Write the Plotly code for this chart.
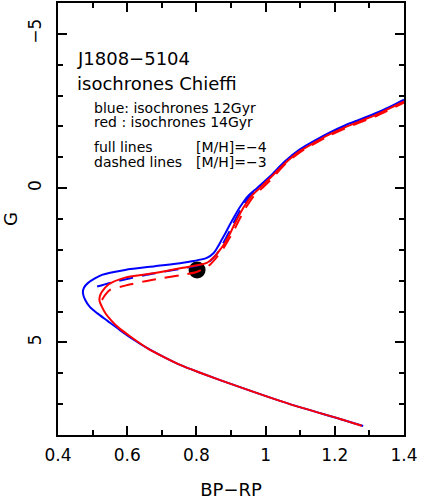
import plotly.graph_objects as go

# Chieffi isochrones, BP-RP vs G
# blue solid: 12 Gyr, [M/H]=-4
b12_m4_x = [1.282, 1.215, 1.07, 0.926, 0.805, 0.753, 0.705, 0.657, 0.62, 0.579, 0.543,
            0.513, 0.492, 0.478, 0.472, 0.475, 0.487, 0.527, 0.594, 0.68, 0.761, 0.83,
            0.85, 0.862, 0.872, 0.883, 0.895, 0.909, 0.926, 0.949, 0.975, 1.013, 1.056,
            1.099, 1.143, 1.186, 1.229, 1.273, 1.316, 1.36, 1.40]
b12_m4_g = [7.71, 7.48, 7.0, 6.45, 5.96, 5.73, 5.47, 5.18, 4.92, 4.60, 4.30,
            4.05, 3.85, 3.61, 3.39, 3.23, 3.07, 2.81, 2.65, 2.53, 2.42, 2.26,
            2.10, 1.90, 1.70, 1.48, 1.22, 0.935, 0.613, 0.258, 0.0, -0.387, -0.871,
            -1.258, -1.548, -1.806, -2.032, -2.226, -2.419, -2.645, -2.871]

# red solid: 14 Gyr, [M/H]=-4
r14_m4_x = [1.278, 1.215, 1.07, 0.926, 0.805, 0.753, 0.705, 0.66, 0.608, 0.575, 0.555,
            0.538, 0.527, 0.52, 0.521, 0.527, 0.545, 0.594, 0.68, 0.761, 0.83, 0.852,
            0.868, 0.878, 0.886, 0.897, 0.908, 0.921, 0.937, 0.959, 0.983, 1.013,
            1.056, 1.099, 1.143, 1.186, 1.229, 1.273, 1.316, 1.36, 1.40]
r14_m4_g = [7.70, 7.48, 7.0, 6.45, 5.96, 5.73, 5.47, 5.20, 4.80, 4.52, 4.30,
            4.07, 3.85, 3.65, 3.50, 3.36, 3.13, 2.90, 2.75, 2.58, 2.42, 2.22,
            2.00, 1.85, 1.70, 1.48, 1.22, 0.935, 0.613, 0.258, 0.0, -0.33,
            -0.81, -1.20, -1.49, -1.75, -1.97, -2.17, -2.36, -2.59, -2.81]

# blue dashed: 12 Gyr, [M/H]=-3
b12_m3_x = [0.513, 0.565, 0.65, 0.75, 0.83, 0.85, 0.866, 0.879, 0.89, 0.902, 0.915,
            0.931, 0.953, 0.979, 1.013, 1.056, 1.099, 1.143, 1.186, 1.229, 1.273,
            1.316, 1.36, 1.40]
b12_m3_g = [3.19, 3.03, 2.82, 2.62, 2.43, 2.25, 2.02, 1.75, 1.52, 1.26, 0.96,
            0.64, 0.28, 0.02, -0.36, -0.84, -1.23, -1.52, -1.78, -2.0, -2.2,
            -2.39, -2.62, -2.84]

# red dashed: 14 Gyr, [M/H]=-3
r14_m3_x = [0.527, 0.537, 0.55, 0.594, 0.646, 0.70, 0.753, 0.80, 0.835, 0.858, 0.875,
            0.886, 0.894, 0.905, 0.916, 0.928, 0.944, 0.966, 0.99, 1.02, 1.056,
            1.099, 1.143, 1.186, 1.229, 1.273, 1.316, 1.36, 1.40]
r14_m3_g = [3.62, 3.45, 3.30, 3.16, 3.03, 2.92, 2.82, 2.72, 2.52, 2.25, 2.00,
            1.80, 1.65, 1.45, 1.20, 0.935, 0.613, 0.258, 0.0, -0.33, -0.77,
            -1.16, -1.45, -1.71, -1.93, -2.13, -2.32, -2.55, -2.77]

# the star J1808-5104
star_x = [0.802]
star_g = [2.65]

FONT = "DejaVu Sans"
DASH = "14px,9px"


def iso_line(x, y, color, dash="solid"):
    return go.Scatter(x=x, y=y, mode="lines", line_shape="spline",
                      line=dict(color=color, width=2, dash=dash, smoothing=0.7),
                      showlegend=False, hoverinfo="skip")


fig = go.Figure()
fig.add_trace(go.Scatter(x=star_x, y=star_g, mode="markers",
                         marker=dict(color="black", size=17), showlegend=False))
fig.add_trace(iso_line(b12_m3_x, b12_m3_g, "#0000ff", DASH))
fig.add_trace(iso_line(b12_m4_x, b12_m4_g, "#0000ff"))
fig.add_trace(iso_line(r14_m4_x, r14_m4_g, "#ff0000"))
fig.add_trace(iso_line(r14_m3_x, r14_m3_g, "#ff0000", DASH))

notes = [
    ("J1808\u22125104", 0.452, -4.19, 18),
    ("isochrones Chieffi", 0.452, -3.39, 18),
    ("blue: isochrones 12Gyr", 0.501, -2.61, 14),
    ("red : isochrones 14Gyr", 0.501, -2.13, 14),
    ("full lines", 0.501, -1.32, 14),
    ("dashed lines", 0.501, -0.84, 14),
    ("[M/H]=\u22124", 0.796, -1.32, 14),
    ("[M/H]=\u22123", 0.796, -0.84, 14),
]
for text, x, y, size in notes:
    fig.add_annotation(x=x, y=y, xref="x", yref="y", text=text, showarrow=False,
                       xanchor="left", yanchor="middle", borderpad=0,
                       font=dict(family=FONT, size=size, color="black"))

axis_common = dict(showgrid=False, zeroline=False, showline=True, linecolor="black",
                   linewidth=1.5, mirror="ticks", ticks="inside", tickcolor="black",
                   tickwidth=1.5, ticklen=9, automargin=False,
                   tickfont=dict(family=FONT, size=17, color="black"))

fig.update_xaxes(range=[0.4, 1.4], tick0=0.4, dtick=0.2,
                 minor=dict(dtick=0.1, ticks="inside", ticklen=5, tickcolor="black",
                            tickwidth=1.5),
                 title=dict(text="BP\u2212RP", font=dict(family=FONT, size=18, color="black"),
                            standoff=20),
                 ticklabelstandoff=4,
                 **axis_common)
fig.update_yaxes(range=[8, -6], tick0=0, dtick=5, tickangle=-90,
                 minor=dict(dtick=1, ticks="inside", ticklen=5, tickcolor="black",
                            tickwidth=1.5),
                 title=dict(text="G", font=dict(family=FONT, size=18, color="black"),
                            standoff=8),
                 ticklabelstandoff=8,
                 **axis_common)

fig.update_layout(width=421, height=500,
                  margin=dict(l=58, r=17, t=3, b=65),
                  plot_bgcolor="white", paper_bgcolor="white",
                  font=dict(family=FONT, color="black"))

# drop the browser's default page margin so the figure sits at the window origin
fig.write_html("out.html", config={"displayModeBar": False},
               post_script="document.body.style.margin='0px';")
